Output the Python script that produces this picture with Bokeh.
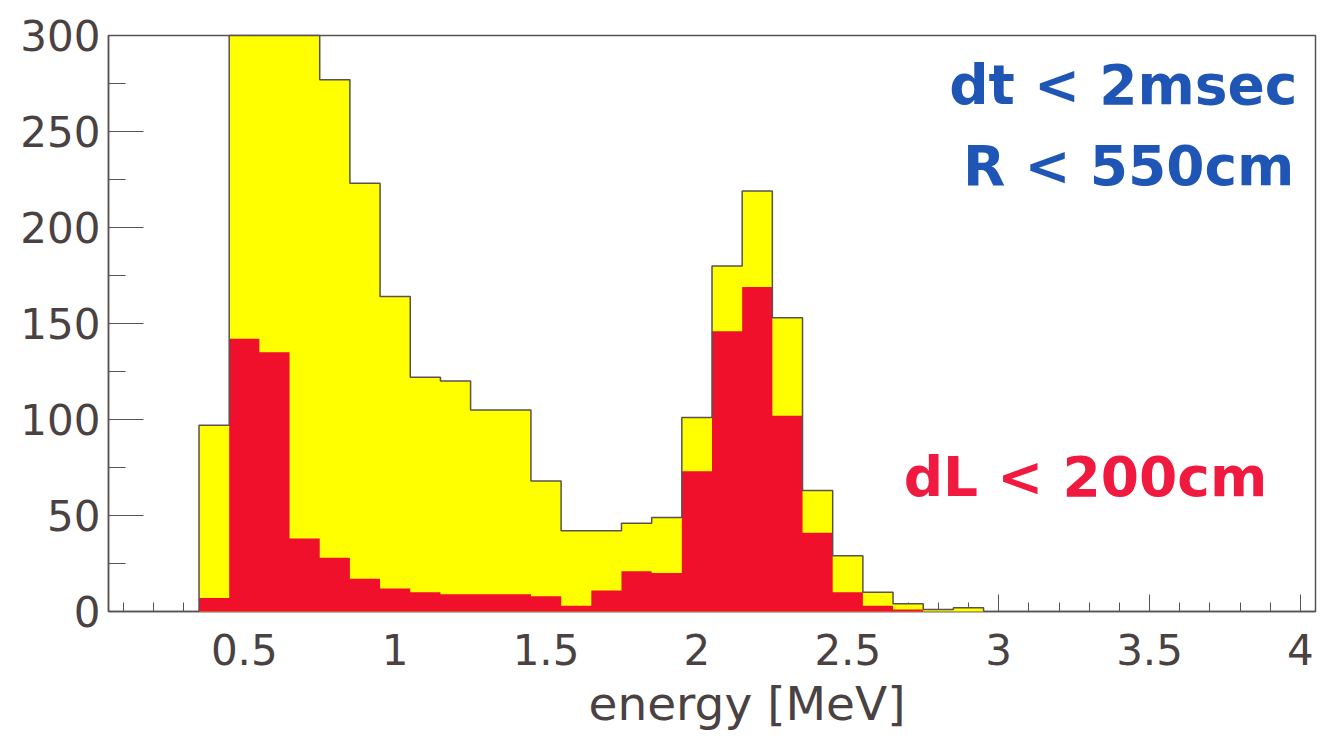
from bokeh.plotting import figure
from bokeh.models import Range1d, SingleIntervalTicker, Label, CustomJSTickFormatter, Title
from bokeh.embed import file_html
from bokeh.resources import INLINE

# ---- data ----
bin_width = 0.1
energy_centers = [0.4, 0.5, 0.6, 0.7, 0.8, 0.9, 1.0, 1.1, 1.2, 1.3, 1.4, 1.5, 1.6,
                  1.7, 1.8, 1.9, 2.0, 2.1, 2.2, 2.3, 2.4, 2.5, 2.6, 2.7, 2.8, 2.9]
counts_all = [97, 400, 370, 330, 277, 223, 164, 122, 120, 105, 105, 68, 42,
              42, 46, 49, 101, 180, 219, 153, 63, 29, 10, 4, 1, 2]
counts_dl = [7, 142, 135, 38, 28, 17, 12, 10, 9, 9, 9, 8, 3,
             11, 21, 20, 73, 146, 169, 102, 41, 10, 3, 1, 0, 0]
x_ticks_interval = 0.5
y_ticks_interval = 50

X_MIN, X_MAX = 0.05, 4.05
Y_MIN, Y_MAX = 0, 300

x_lo = [c - bin_width / 2 for c in energy_centers]
x_hi = [c + bin_width / 2 for c in energy_centers]


def step_outline(values):
    """Polygon of a histogram, clipped to the visible y range."""
    xs = [x_lo[0]]
    ys = [0]
    for lo, hi, v in zip(x_lo, x_hi, values):
        v = min(v, Y_MAX)
        xs += [lo, hi]
        ys += [v, v]
    xs.append(x_hi[-1])
    ys.append(0)
    return xs, ys


AX = "#5a5252"
TXT = "#4a4242"
FONT = "DejaVu Sans"

p = figure(width=1332, height=740, output_backend="svg", toolbar_location=None,
           x_range=Range1d(X_MIN, X_MAX), y_range=Range1d(Y_MIN, Y_MAX),
           min_border_left=108, min_border_right=17, min_border_top=35,
           min_border_bottom=129)
p.background_fill_color = "white"
p.border_fill_color = "white"
p.grid.visible = False
p.outline_line_color = AX
p.outline_line_width = 1.5

ax_, ay_ = step_outline(counts_all)
rx_, ry_ = step_outline(counts_dl)
# yellow: all events
p.patch(ax_, ay_, fill_color="#ffff00", line_color=None, level="overlay")
# red: dL < 200cm
p.patch(rx_, ry_, fill_color="#f0102c", line_color=None, level="overlay")
# outline of the yellow histogram
p.line(ax_, ay_, line_color=AX, line_width=1.5, level="overlay")

fmt = CustomJSTickFormatter(code="return String(Math.round(tick*10)/10)")

xa = p.xaxis[0]
xa.ticker = SingleIntervalTicker(interval=x_ticks_interval, num_minor_ticks=5)
xa.formatter = fmt
xa.major_tick_in = 17
xa.major_tick_out = 0
xa.minor_tick_in = 9
xa.minor_tick_out = 0
xa.major_tick_line_color = AX
xa.minor_tick_line_color = AX
xa.axis_line_color = AX
xa.axis_line_width = 1.5
xa.major_label_text_font = FONT
xa.major_label_text_font_size = "42px"
xa.major_label_text_color = TXT
xa.major_label_standoff = 22

ya = p.yaxis[0]
ya.ticker = SingleIntervalTicker(interval=y_ticks_interval, num_minor_ticks=2)
ya.formatter = fmt
ya.major_tick_in = 35
ya.major_tick_out = 0
ya.minor_tick_in = 17
ya.minor_tick_out = 0
ya.major_tick_line_color = AX
ya.minor_tick_line_color = AX
ya.axis_line_color = AX
ya.axis_line_width = 1.5
ya.major_label_text_font = FONT
ya.major_label_text_font_size = "42px"
ya.major_label_text_color = TXT
ya.major_label_standoff = 8

# x-axis title
p.add_layout(Title(text="energy [MeV]", align="right", offset=410,
                   text_font=FONT, text_font_size="47px",
                   text_font_style="normal", text_color=TXT,
                   standoff=12), "below")

BLUE = "#1f55b5"
RED = "#f01a40"
p.add_layout(Label(x=3.99, y=274, text="dt < 2msec", text_align="right",
                   text_baseline="alphabetic", text_font=FONT,
                   text_font_style="bold", text_font_size="55px",
                   text_color=BLUE))
p.add_layout(Label(x=3.98, y=232, text="R < 550cm", text_align="right",
                   text_baseline="alphabetic", text_font=FONT,
                   text_font_style="bold", text_font_size="55px",
                   text_color=BLUE))
p.add_layout(Label(x=3.89, y=70, text="dL < 200cm", text_align="right",
                   text_baseline="alphabetic", text_font=FONT,
                   text_font_style="bold", text_font_size="55px",
                   text_color=RED))

open("out.html", "w").write(file_html(p, INLINE))
